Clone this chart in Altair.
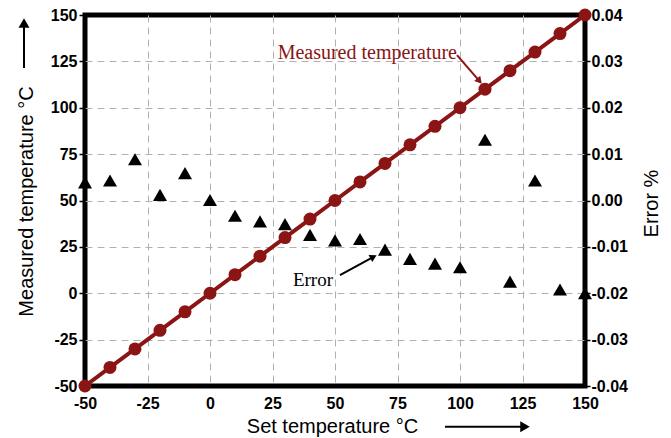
import altair as alt
import pandas as pd

# ---- data ----
set_temp = [-50, -40, -30, -20, -10, 0, 10, 20, 30, 40, 50, 60, 70, 80, 90, 100, 110, 120, 130, 140, 150]
measured = [-50, -40, -30, -20, -10, 0, 10, 20, 30, 40, 50, 60, 70, 80, 90, 100, 110, 120, 130, 140, 150]
error_pct = [0.0039, 0.0043, 0.0089, 0.0012, 0.0059, 0.0001, -0.0033, -0.0045, -0.0051, -0.0074,
             -0.0086, -0.0083, -0.0106, -0.0126, -0.0136, -0.0144, 0.0131, -0.0175, 0.0043, -0.0192, -0.0200]

x_ticks = [-50, -25, 0, 25, 50, 75, 100, 125, 150]
y_ticks = [-50, -25, 0, 25, 50, 75, 100, 125, 150]
err_ticks = [-0.04, -0.03, -0.02, -0.01, 0.0, 0.01, 0.02, 0.03, 0.04]

# annotation labels
ann_text = ["Measured temperature", "Error"]
ann_x = [98.8, 49.2]
ann_y = [129.5, 7.1]
ann_color = ["#8b1414", "black"]
ann_size = [20, 19]

# annotation arrows (shaft start/end) and heads
arr_x = [98.8, 52.0, -74.4, 94.0]
arr_y = [128.4, 9.8, 121.4, -72.0]
arr_x2 = [107.8, 65.4, -74.4, 126.0]
arr_y2 = [114.4, 19.6, 145.7, -72.0]
arr_color = ["#8b1414", "black", "black", "black"]
head_angle = [139, 62, 0, 90]
head_size = [64, 64, 120, 120]

RED = "#8b1414"
SANS = "Liberation Sans"
SERIF = "Liberation Serif"

grid_op = {"condition": {"test": "datum.value <= -50 || datum.value >= 150", "value": 0}, "value": 1}


def xe(field="x"):
    return alt.X(
        f"{field}:Q",
        scale=alt.Scale(domain=[-50, 150], nice=False),
        axis=alt.Axis(
            values=x_ticks, title="Set temperature °C", labelExpr="'' + datum.value",
            ticks=False, domain=False, grid=True, gridDash=[7, 5], gridColor="#b0b0b0",
            gridOpacity=grid_op, labelFont=SANS, labelFontWeight="bold", labelFontSize=16,
            labelColor="black", labelPadding=9, labelFlush=False, labelOverlap=False,
            titleFont=SANS, titleFontSize=20,
            titleFontWeight="normal", titleColor="black", titleX=247, titleY=40,
            titleAlign="center", titleBaseline="middle",
        ),
    )


def ye(field="y"):
    return alt.Y(
        f"{field}:Q",
        scale=alt.Scale(domain=[-50, 150], nice=False),
        axis=alt.Axis(
            orient="left", values=y_ticks, title="Measured temperature °C",
            labelExpr="'' + datum.value", ticks=True, tickSize=6, tickColor="black",
            tickWidth=1.5, domain=False, grid=True, gridDash=[7, 5], gridColor="#b0b0b0",
            gridOpacity=grid_op, labelFont=SANS, labelFontWeight="bold", labelFontSize=16,
            labelColor="black", labelPadding=2, labelFlush=False, labelOverlap=False,
            titleFont=SANS, titleFontSize=20,
            titleFontWeight="normal", titleColor="black", titleAngle=-90, titleX=-59,
            titleY=186, titleAlign="center", titleBaseline="middle",
        ),
    )


df = pd.DataFrame({"x": set_temp, "y": measured, "err": error_pct})
ann = pd.DataFrame({"x": ann_x, "y": ann_y, "t": ann_text, "c": ann_color, "s": ann_size})
arr = pd.DataFrame({"x": arr_x, "y": arr_y, "x2": arr_x2, "y2": arr_y2, "c": arr_color})
heads = pd.DataFrame({"x": arr_x2, "y": arr_y2, "c": arr_color, "a": head_angle, "s": head_size})

line = alt.Chart(df).mark_line(color=RED, strokeWidth=4).encode(x=xe(), y=ye())
dots = alt.Chart(df).mark_point(shape="circle", filled=True, size=169, color=RED, opacity=1).encode(
    x=xe(), y=ye())
texts = alt.Chart(ann).mark_text(font=SERIF, align="right", baseline="middle", clip=False).encode(
    x=xe(), y=ye(), text="t:N", color=alt.Color("c:N", scale=None), size=alt.Size("s:Q", scale=None))
shafts = alt.Chart(arr).mark_rule(strokeWidth=2, clip=False).encode(
    x=xe(), y=ye(), x2="x2:Q", y2="y2:Q", color=alt.Color("c:N", scale=None))
arrowheads = alt.Chart(heads).mark_point(shape="triangle-up", filled=True, opacity=1, clip=False).encode(
    x=xe(), y=ye(), color=alt.Color("c:N", scale=None), angle=alt.Angle("a:Q", scale=None),
    size=alt.Size("s:Q", scale=None))

left = alt.layer(line, dots, texts, shafts, arrowheads)

err_layer = alt.Chart(df).mark_point(shape="triangle-up", filled=True, size=196, color="black", opacity=1).encode(
    x=xe(),
    y=alt.Y(
        "err:Q",
        scale=alt.Scale(domain=[-0.04, 0.04], nice=False),
        axis=alt.Axis(
            orient="right", values=err_ticks,
            labelExpr="replace(format(datum.value, '.2f'), '\u2212', '-')",
            grid=False, domain=False, ticks=True, tickSize=5, tickColor="black", tickWidth=1.5,
            labelFont=SANS, labelFontWeight="bold", labelFontSize=16, labelColor="black",
            labelPadding=1, labelFlush=False, labelOverlap=False,
            title="Error %", titleFont=SANS, titleFontSize=20,
            titleFontWeight="normal", titleColor="black", titleAngle=-90, titleX=66,
            titleY=188, titleAlign="center", titleBaseline="middle",
        ),
    ),
)

chart = (
    alt.layer(err_layer, left)
    .resolve_scale(y="independent")
    .properties(
        width=500, height=371,
        autosize=alt.AutoSizeParams(type="none"),
        padding={"left": 77, "top": 7, "right": 78, "bottom": 52},
        background="white",
    )
    .configure_view(stroke="black", strokeWidth=5)
)

chart.save("out.html", embed_options={"renderer": "svg", "actions": False})
